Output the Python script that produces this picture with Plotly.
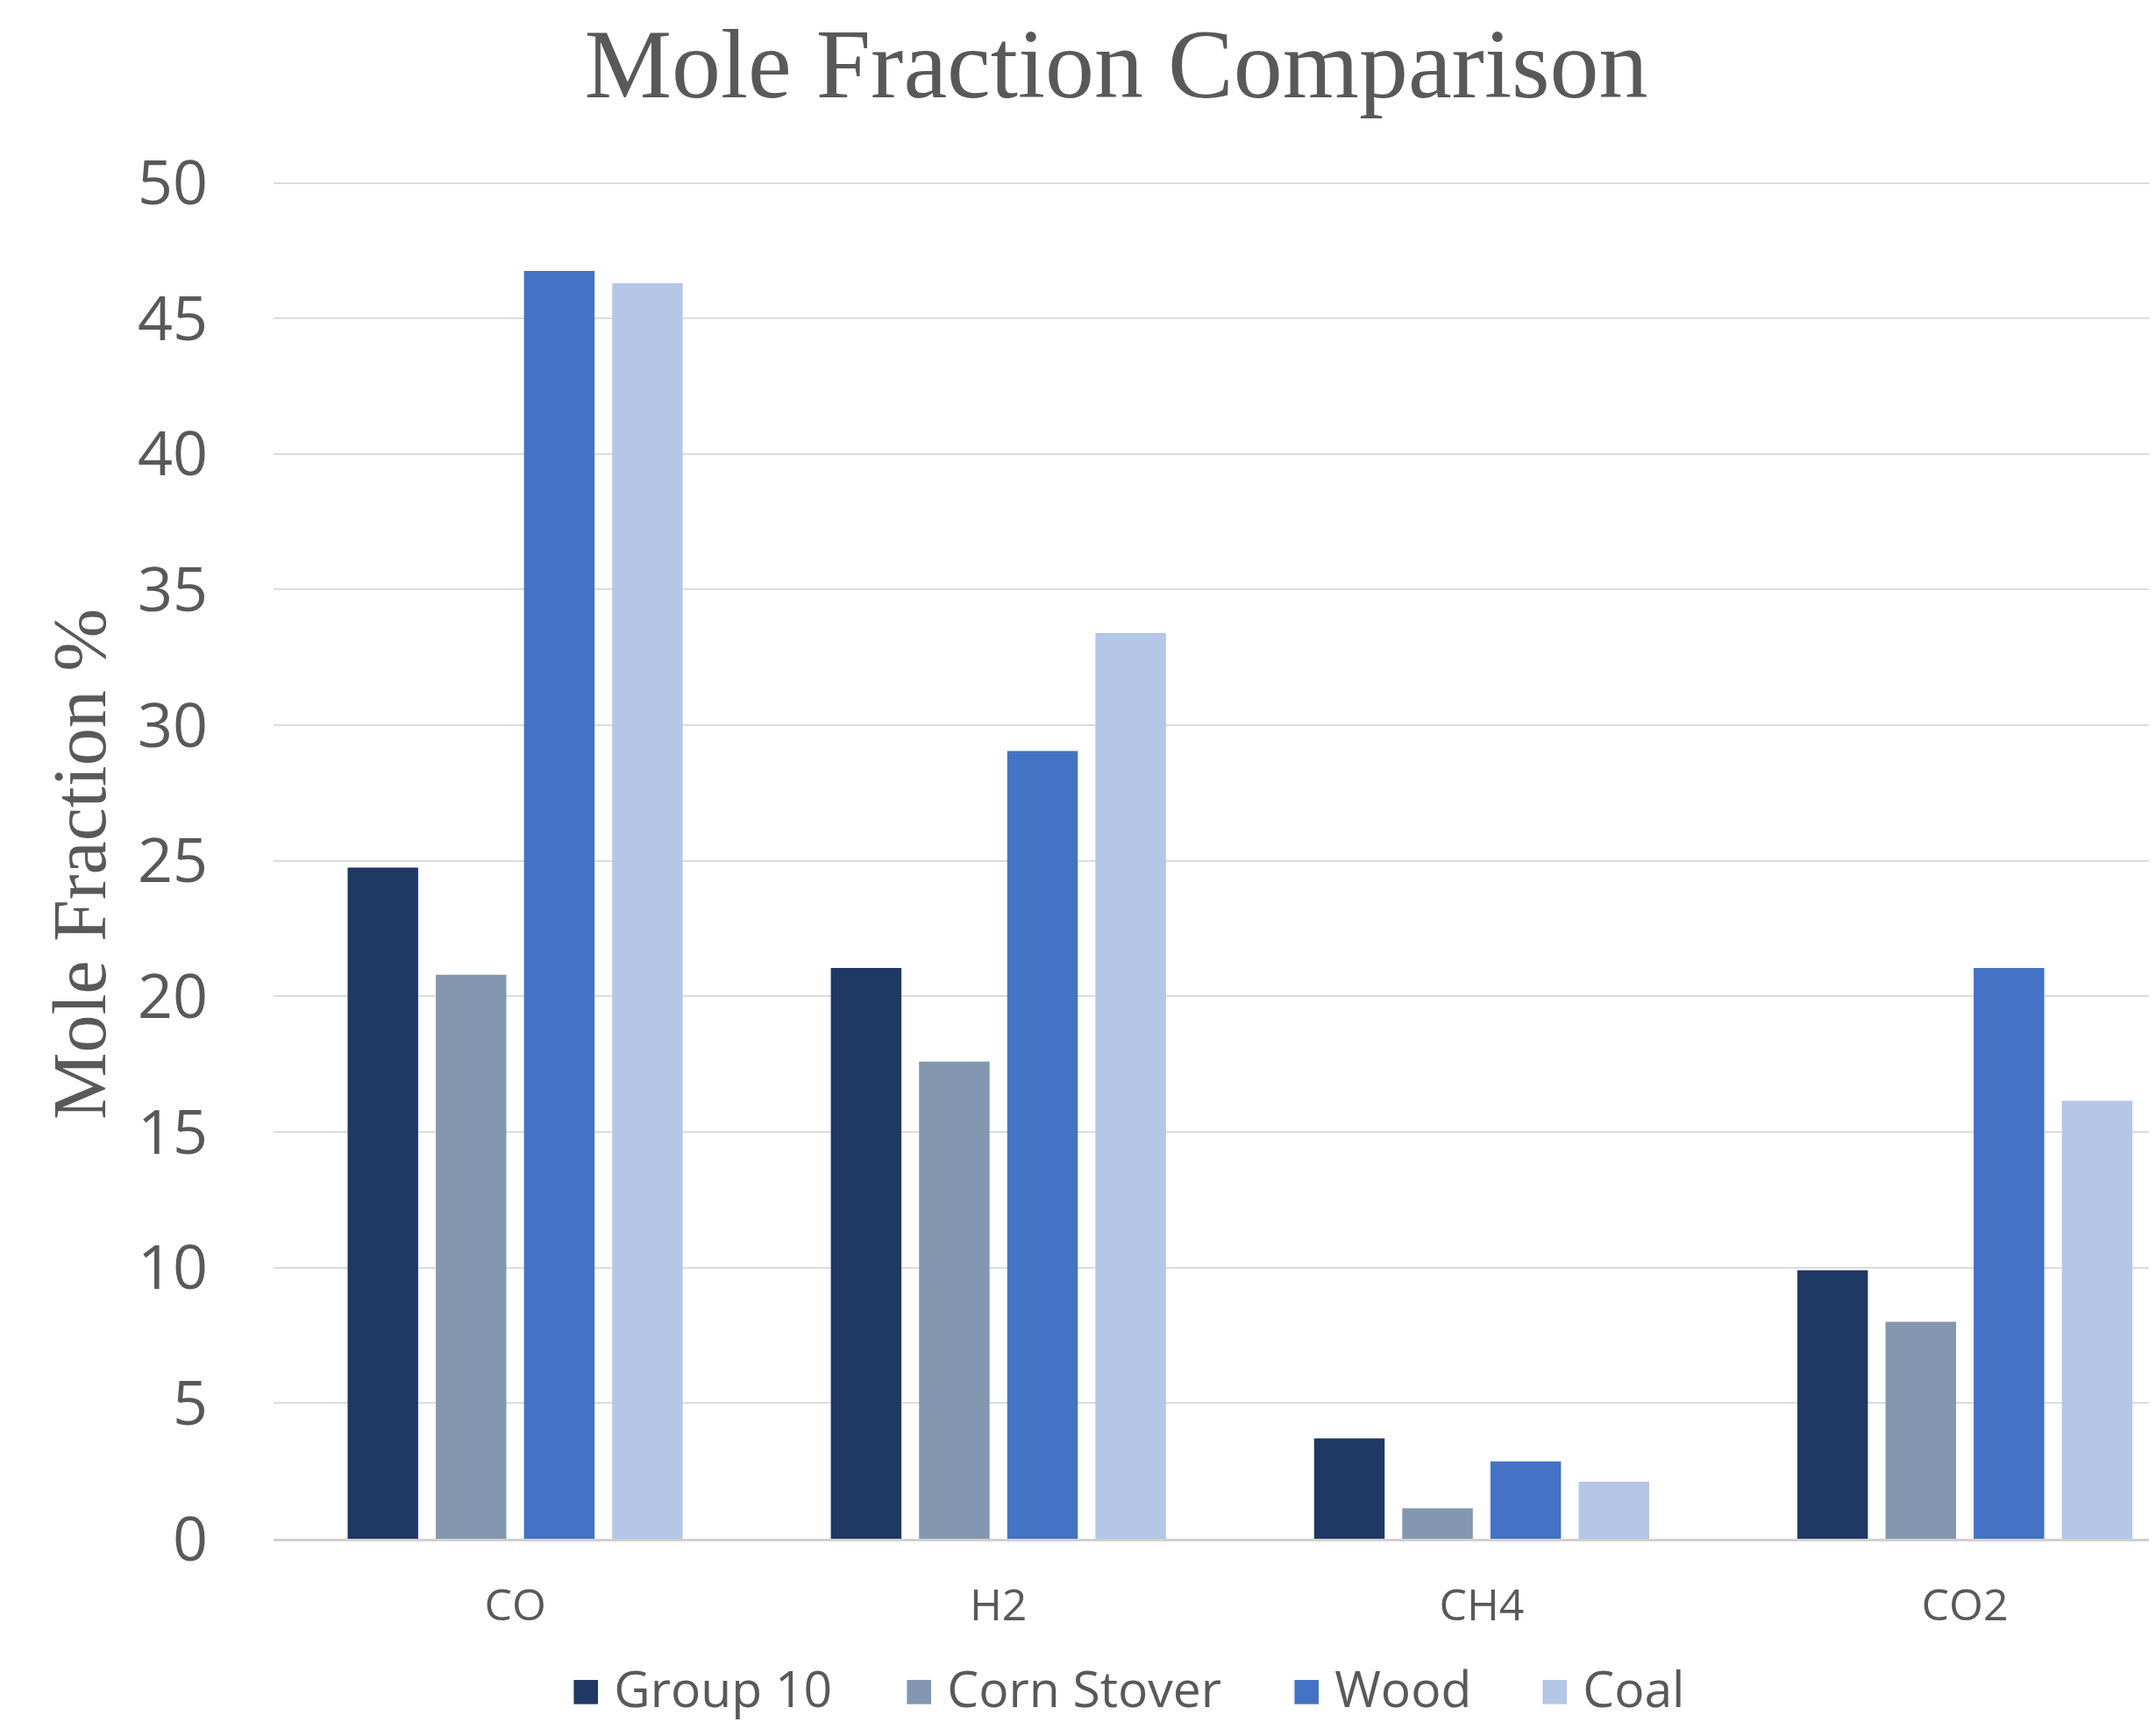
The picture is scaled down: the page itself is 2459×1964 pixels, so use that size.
import plotly.graph_objects as go

categories = ["CO", "H2", "CH4", "CO2"]
group10 = [24.75, 21.05, 3.7, 9.9]
corn_stover = [20.8, 17.6, 1.12, 8.0]
wood = [46.75, 29.05, 2.85, 21.05]
coal = [46.3, 33.4, 2.1, 16.15]
series_names = ["Group 10", "Corn Stover", "Wood", "Coal"]
colors = ["#203864", "#8497B0", "#4472C4", "#B4C7E7"]
y_ticks = [0, 5, 10, 15, 20, 25, 30, 35, 40, 45, 50]

W, H = 2459, 1964
L, R, T, B = 304, 0, 199, 217
PW, PH = W - L - R, H - T - B

fig = go.Figure()
for name, vals, c in zip(series_names, [group10, corn_stover, wood, coal], colors):
    fig.add_trace(go.Bar(name=name, x=categories, y=vals, showlegend=False,
                         marker=dict(color=c, line=dict(width=0))))

sans = "Open Sans"
serif = "Liberation Serif"
txt = "#595959"

# manual legend (larger square keys, as in the reference)
legend_px = [641, 1021, 1463, 1746]
annotations = []
for name, c, px in zip(series_names, colors, legend_px):
    annotations.append(dict(
        text=f'<span style="color:{c}">■</span> {name}',
        xref="paper", yref="paper", x=(px - L) / PW, y=-(1917 - (T + PH)) / PH,
        xanchor="left", yanchor="middle", showarrow=False,
        font=dict(family=sans, size=57, color=txt)))

annotations.append(dict(text="Mole Fraction %", textangle=-90, xref="paper", yref="paper",
                        x=(83 - L) / PW, y=1 - (978 - T) / PH, xanchor="center", yanchor="middle",
                        showarrow=False, font=dict(family=serif, size=86, color=txt)))

fig.update_layout(
    width=W, height=H,
    paper_bgcolor="white", plot_bgcolor="white",
    barmode="group", bargap=0.27, bargroupgap=0.2,
    showlegend=False,
    margin=dict(l=L, r=R, t=T, b=B, autoexpand=False),
    title=dict(text="Mole Fraction Comparison", x=1265 / W, xanchor="center",
               y=1 - 64 / H, yanchor="middle", font=dict(family=serif, size=112, color=txt)),
    xaxis=dict(range=[-0.5, 3.41], showgrid=False, showline=True, linecolor="#D0D0D0", linewidth=3,
               tickfont=dict(family=sans, size=50, color=txt), ticks="", ticklabelstandoff=30),
    yaxis=dict(range=[0, 50.05], tickvals=y_ticks, showgrid=True, gridcolor="#DCDCDC", gridwidth=2,
               zeroline=False, showline=False,
               tickfont=dict(family=sans, size=70, color=txt), ticks="", ticklabelstandoff=74),
    annotations=annotations,
)
fig.write_html("out.html")
